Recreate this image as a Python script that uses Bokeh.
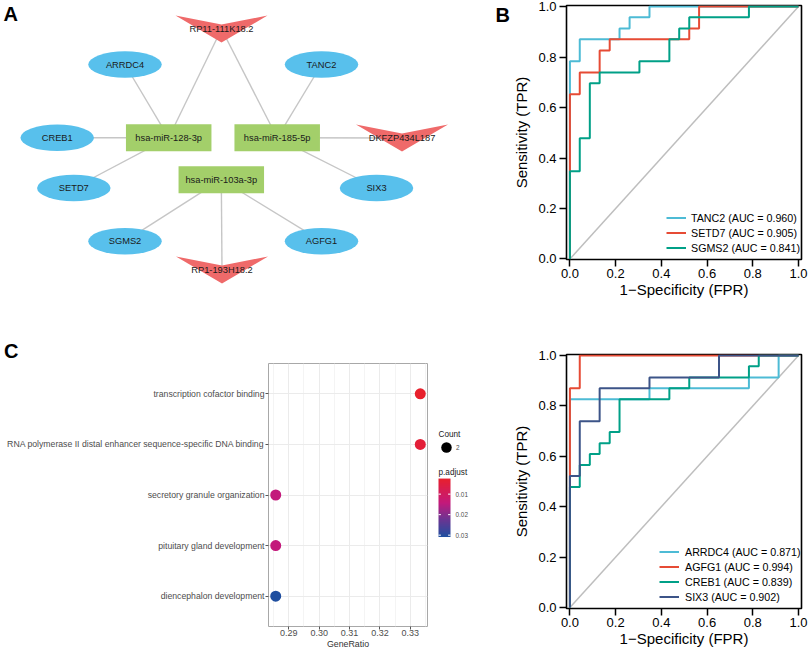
import numpy as np
from bokeh.plotting import figure
from bokeh.layouts import row, column
from bokeh.models import (Range1d, FactorRange, FixedTicker, PrintfTickFormatter,
                          LinearColorMapper, ColumnDataSource)
from bokeh.transform import linear_cmap
from bokeh.core.properties import value
from bokeh.embed import file_html
from bokeh.resources import INLINE

FONT = "Liberation Sans"

# ---------------- Panel A : ceRNA network ----------------
mirnas = ["hsa-miR-128-3p", "hsa-miR-185-5p", "hsa-miR-103a-3p"]
mrnas = ["ARRDC4", "TANC2", "CREB1", "SETD7", "SIX3", "SGMS2", "AGFG1"]
lncrnas = ["RP11-111K18.2", "DKFZP434L187", "RP1-193H18.2"]
edge_from = ["hsa-miR-128-3p", "hsa-miR-128-3p", "hsa-miR-128-3p", "hsa-miR-128-3p",
             "hsa-miR-185-5p", "hsa-miR-185-5p", "hsa-miR-185-5p", "hsa-miR-185-5p",
             "hsa-miR-103a-3p", "hsa-miR-103a-3p", "hsa-miR-103a-3p"]
edge_to = ["ARRDC4", "RP11-111K18.2", "CREB1", "SETD7",
           "RP11-111K18.2", "TANC2", "DKFZP434L187", "SIX3",
           "SGMS2", "RP1-193H18.2", "AGFG1"]
# network layout (as drawn)
layout_pos = {
    "hsa-miR-128-3p": (168.2, 137.3), "hsa-miR-185-5p": (276.7, 137.3),
    "hsa-miR-103a-3p": (220.8, 179.2),
    "ARRDC4": (124.5, 64.0), "TANC2": (321.0, 64.0), "CREB1": (56.7, 137.3),
    "SETD7": (73.3, 187.5), "SIX3": (376.0, 187.5), "SGMS2": (124.5, 240.7),
    "AGFG1": (321.0, 240.7),
    "RP11-111K18.2": (221.0, 28.5), "DKFZP434L187": (401.5, 137.5),
    "RP1-193H18.2": (221.5, 269.5),
}

# ---------------- Panel B / D : ROC curves ----------------
roc_b_names = ["TANC2", "SETD7", "SGMS2"]
roc_b_auc = [0.960, 0.905, 0.841]
roc_b_fpr = [
    [0, 0, 0.043, 0.043, 0.217, 0.217, 0.261, 0.261, 0.348, 0.348, 1],
    [0, 0, 0.043, 0.043, 0.130, 0.130, 0.174, 0.174, 0.522, 0.522, 0.565, 0.565, 1],
    [0, 0, 0.043, 0.043, 0.087, 0.087, 0.130, 0.130, 0.304, 0.304, 0.435, 0.435,
     0.478, 0.478, 0.522, 0.522, 0.783, 0.783, 1],
]
roc_b_tpr = [
    [0, 0.783, 0.783, 0.870, 0.870, 0.913, 0.913, 0.957, 0.957, 1, 1],
    [0, 0.652, 0.652, 0.739, 0.739, 0.826, 0.826, 0.870, 0.870, 0.913, 0.913, 1, 1],
    [0, 0.348, 0.348, 0.478, 0.478, 0.696, 0.696, 0.739, 0.739, 0.783, 0.783, 0.870,
     0.870, 0.913, 0.913, 0.957, 0.957, 1, 1],
]

roc_d_names = ["ARRDC4", "AGFG1", "CREB1", "SIX3"]
roc_d_auc = [0.871, 0.994, 0.839, 0.902]
roc_d_fpr = [
    [0, 0, 0.348, 0.348, 0.783, 0.783, 0.913, 0.913, 1],
    [0, 0, 0.043, 0.043, 1],
    [0, 0, 0.043, 0.043, 0.087, 0.087, 0.130, 0.130, 0.174, 0.174, 0.217, 0.217,
     0.435, 0.435, 0.522, 0.522, 0.783, 0.783, 0.826, 0.826, 1],
    [0, 0, 0.043, 0.043, 0.130, 0.130, 0.348, 0.348, 0.652, 0.652, 1],
]
roc_d_tpr = [
    [0, 0.826, 0.826, 0.870, 0.870, 0.913, 0.913, 1, 1],
    [0, 0.870, 0.870, 1, 1],
    [0, 0.478, 0.478, 0.565, 0.565, 0.609, 0.609, 0.652, 0.652, 0.696, 0.696, 0.826,
     0.826, 0.870, 0.870, 0.913, 0.913, 0.957, 0.957, 1, 1],
    [0, 0.522, 0.522, 0.739, 0.739, 0.870, 0.870, 0.913, 0.913, 1, 1],
]
roc_ticks = [0.0, 0.2, 0.4, 0.6, 0.8, 1.0]

# ---------------- Panel C : GO dot plot ----------------
go_terms = ["transcription cofactor binding",
            "RNA polymerase II distal enhancer sequence-specific DNA binding",
            "secretory granule organization",
            "pituitary gland development",
            "diencephalon development"]
go_gene_ratio = [0.3333, 0.3333, 0.2857, 0.2857, 0.2857]
go_count = [2, 2, 2, 2, 2]
go_p_adjust = [0.0024, 0.0042, 0.0145, 0.0145, 0.0309]
ratio_ticks = [0.29, 0.30, 0.31, 0.32, 0.33]
padj_ticks = [0.01, 0.02, 0.03]


# ---------------- colour gradient (red -> magenta -> purple -> blue) ----------------
def _hex2rgb(h):
    return np.array([int(h[i:i + 2], 16) for i in (1, 3, 5)], dtype=float)


def gradient(stops, n=256):
    pos = np.array([s[0] for s in stops])
    cols = np.array([_hex2rgb(s[1]) for s in stops])
    out = []
    for t in np.linspace(0, 1, n):
        rgb = [np.interp(t, pos, cols[:, k]) for k in range(3)]
        out.append("#%02x%02x%02x" % tuple(int(round(v)) for v in rgb))
    return out


PAL = gradient([(0.0, "#E8202C"), (0.42, "#C4197B"), (0.70, "#6C3592"), (1.0, "#1F4E9F")])

# ======================= Figure A (network + panel letters) =======================
A_W, A_H = 510, 363
pa = figure(width=A_W, height=A_H, x_range=Range1d(0, A_W), y_range=Range1d(A_H, 0),
            x_axis_type=None, y_axis_type=None, min_border=0, toolbar_location=None,
            output_backend="svg", outline_line_color=None)
pa.grid.visible = False

pa.segment(x0=[layout_pos[a][0] for a in edge_from], y0=[layout_pos[a][1] for a in edge_from],
           x1=[layout_pos[b][0] for b in edge_to], y1=[layout_pos[b][1] for b in edge_to],
           line_color="#C6C6C6", line_width=1.4)

pa.ellipse(x=[layout_pos[n][0] for n in mrnas], y=[layout_pos[n][1] for n in mrnas],
           width=73.5, height=26.5, fill_color="#58C0EC", line_color=None)
pa.rect(x=[layout_pos[n][0] for n in mirnas], y=[layout_pos[n][1] for n in mirnas],
        width=85.5, height=27, fill_color="#A3CF6A", line_color=None)
vee = [(-1, -1), (0, -1 / 3), (1, -1), (0, 1)]
HW, HH = 46, 13.5
pa.patches(xs=[[layout_pos[n][0] + vx * HW for vx, vy in vee] for n in lncrnas],
           ys=[[layout_pos[n][1] + vy * HH for vx, vy in vee] for n in lncrnas],
           fill_color="#EF6A6A", line_color=None)

all_nodes = mirnas + mrnas + lncrnas
pa.text(x=[layout_pos[n][0] for n in all_nodes], y=[layout_pos[n][1] for n in all_nodes],
        text=all_nodes, text_align="center", text_baseline="middle",
        text_font=value(FONT), text_font_size="9.3px", text_color="#1A1A1A")
pa.text(x=[3, 495, 3.5], y=[13.5, 14.0, 350.0], text=["A", "B", "C"],
        text_align="left", text_baseline="middle", text_font=value(FONT),
        text_font_size="20px", text_font_style="bold", text_color="black")


# ======================= ROC figures =======================
def roc_figure(height, top, bottom, yr, names, aucs, fprs, tprs, colors, leg_x, leg_y, standoff):
    p = figure(width=299, height=height, x_range=Range1d(-0.015, 1.013),
               y_range=Range1d(*yr), min_border_left=50, min_border_right=8,
               min_border_top=top, min_border_bottom=bottom,
               toolbar_location=None, output_backend="svg")
    p.grid.visible = False
    p.outline_line_color = "black"
    p.outline_line_width = 1.6
    p.line([0, 1], [0, 1], line_color="#BEBEBE", line_width=1.5)
    for nm, auc, fx, ty, col in zip(names, aucs, fprs, tprs, colors):
        p.line(fx, ty, line_color=col, line_width=2, legend_label=f"{nm} (AUC = {auc:.3f})")
    for ax in (p.xaxis[0], p.yaxis[0]):
        ax.ticker = FixedTicker(ticks=roc_ticks)
        ax.formatter = PrintfTickFormatter(format="%.1f")
        ax.axis_line_color = None
        ax.major_tick_out = 7
        ax.major_tick_in = 0
        ax.minor_tick_out = 0
        ax.minor_tick_in = 0
        ax.major_tick_line_width = 1.5
        ax.major_tick_line_color = "black"
        ax.major_label_text_font = FONT
        ax.major_label_text_font_size = "13px"
        ax.major_label_text_color = "black"
        ax.axis_label_text_font = FONT
        ax.axis_label_text_font_size = "15px"
        ax.axis_label_text_font_style = "normal"
        ax.axis_label_text_color = "black"
    p.xaxis.axis_label = "1\u2212Specificity (FPR)"
    p.yaxis.axis_label = "Sensitivity (TPR)"
    p.xaxis.major_label_standoff = 2
    p.xaxis.axis_label_standoff = 0
    p.yaxis.major_label_standoff = 3
    p.yaxis.axis_label_standoff = 5
    lg = p.legend[0]
    lg.location = (leg_x, leg_y)
    lg.padding = 0
    lg.margin = 0
    lg.spacing = 0
    lg.border_line_color = None
    lg.background_fill_alpha = 0
    lg.label_text_font = FONT
    lg.label_text_font_size = "10.7px"
    lg.label_text_color = "black"
    lg.glyph_width = 20
    lg.glyph_height = 15
    lg.label_height = 15
    lg.label_standoff = standoff
    return p


pb = roc_figure(320, 5, 61, (-0.002, 1.004), roc_b_names, roc_b_auc, roc_b_fpr, roc_b_tpr,
                ["#4DBBD5", "#E64B35", "#00A087"], 100, 4, 5)
pd_ = roc_figure(331, 34, 43, (-0.004, 1.004), roc_d_names, roc_d_auc, roc_d_fpr, roc_d_tpr,
                 ["#4DBBD5", "#E64B35", "#00A087", "#3C5488"], 93, 4, 6)

# ======================= Figure C =======================
C_TOP, C_BOT = A_H, 651
lo, hi = min(go_gene_ratio), max(go_gene_ratio)
pad = 0.05 * (hi - lo)
pmin, pmax = min(go_p_adjust), max(go_p_adjust)
src = ColumnDataSource(dict(term=go_terms, ratio=go_gene_ratio, padj=go_p_adjust, count=go_count))

pc = figure(width=432, height=C_BOT - C_TOP, x_range=Range1d(lo - pad, hi + pad),
            y_range=FactorRange(factors=go_terms[::-1], range_padding=0.04),
            min_border_left=268, min_border_right=5, min_border_top=0,
            min_border_bottom=22, toolbar_location=None, output_backend="svg")
pc.outline_line_color = "#A8A8A8"
pc.outline_line_width = 1
pc.xaxis.ticker = FixedTicker(ticks=ratio_ticks,
                              minor_ticks=[t - 0.005 for t in ratio_ticks] + [ratio_ticks[-1] + 0.005])
pc.xaxis.formatter = PrintfTickFormatter(format="%.2f")
pc.xgrid.ticker = pc.xaxis.ticker
pc.xgrid.grid_line_color = "#EBEBEB"
pc.xgrid.minor_grid_line_color = "#F4F4F4"
pc.ygrid.grid_line_color = "#EBEBEB"
for ax in (pc.xaxis[0], pc.yaxis[0]):
    ax.axis_line_color = None
    ax.major_tick_out = 3
    ax.major_tick_in = 0
    ax.minor_tick_out = 0
    ax.minor_tick_in = 0
    ax.major_tick_line_color = "#555555"
    ax.major_label_text_font = FONT
    ax.major_label_text_color = "#4D4D4D"
    ax.major_label_standoff = 1
pc.yaxis.major_label_text_font_size = "8.7px"
pc.xaxis.major_label_text_font_size = "9px"
pc.xaxis.major_label_standoff = 0
pc.xaxis.axis_label = "GeneRatio"
pc.xaxis.axis_label_text_font = FONT
pc.xaxis.axis_label_text_font_size = "8.8px"
pc.xaxis.axis_label_text_font_style = "normal"
pc.xaxis.axis_label_text_color = "#333333"
pc.xaxis.axis_label_standoff = 0

pc.scatter(x="ratio", y="term", source=src, size=11,
           fill_color=linear_cmap("padj", PAL, pmin, pmax), line_color=None)

# ------- legend strip for panel C (Count + p.adjust colour bar) -------
LH = C_BOT - C_TOP
pl = figure(width=48, height=LH, x_range=Range1d(432, 480), y_range=Range1d(0, LH),
            x_axis_type=None, y_axis_type=None, min_border=0, toolbar_location=None,
            output_backend="svg", outline_line_color=None)
pl.grid.visible = False


def yu(y_ref):
    return C_BOT - y_ref


pl.text(x=[438, 438], y=[yu(440.7), yu(482.6)], text=["Count", "p.adjust"],
        text_align="left", text_baseline="middle", text_font=value(FONT),
        text_font_size="8.2px", text_color="#1A1A1A")
pl.scatter(x=[446], y=[yu(455)], size=10.5, fill_color="black", line_color=None)
pl.text(x=[455.5], y=[yu(455)], text=[str(sorted(set(go_count))[0])], text_align="left",
        text_baseline="middle", text_font=value(FONT), text_font_size="6.4px",
        text_color="#4D4D4D")
BAR_TOP, BAR_H = 489.0, 64.0
mapper = LinearColorMapper(palette=PAL, low=pmin, high=pmax)
bar = np.linspace(pmax, pmin, 200).reshape(-1, 1)
pl.image(image=[bar], x=438, y=yu(BAR_TOP + BAR_H), dw=12, dh=BAR_H, color_mapper=mapper)
tick_y = [yu(BAR_TOP + (t - pmin) / (pmax - pmin) * BAR_H) for t in padj_ticks]
pl.segment(x0=[438] * 3, x1=[440.4] * 3, y0=tick_y, y1=tick_y, line_color="white", line_width=1)
pl.segment(x0=[447.6] * 3, x1=[450] * 3, y0=tick_y, y1=tick_y, line_color="white", line_width=1)
pl.text(x=[455] * 3, y=tick_y, text=[f"{t:.2f}" for t in padj_ticks], text_align="left",
        text_baseline="middle", text_font=value(FONT), text_font_size="6.4px",
        text_color="#4D4D4D")

left = column(pa, row(pc, pl, spacing=0), spacing=0)
right = column(pb, pd_, spacing=0)
page = row(left, right, spacing=0)

open("out.html", "w").write(file_html(page, INLINE))
